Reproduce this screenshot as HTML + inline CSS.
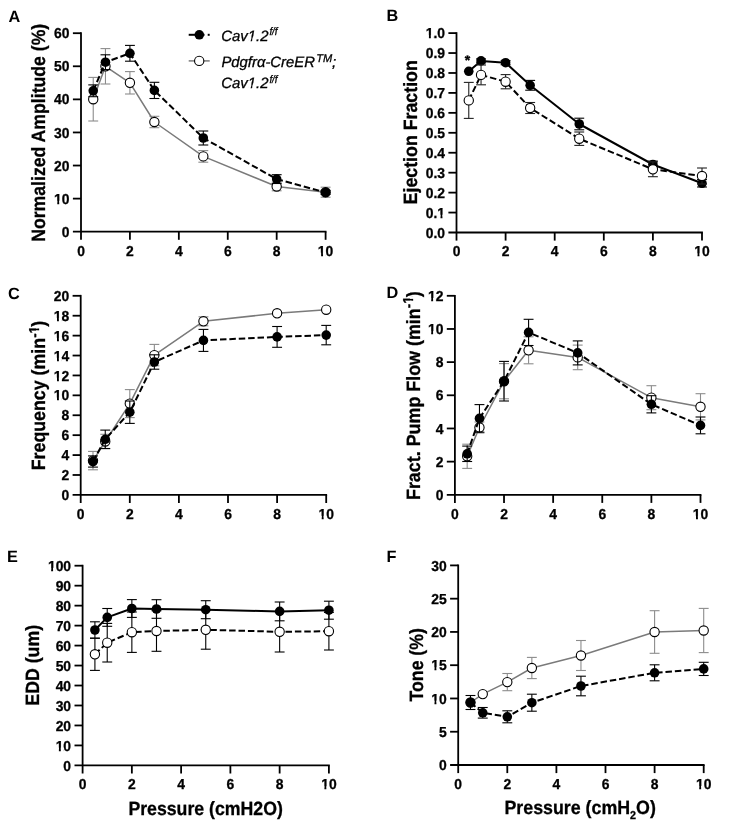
<!DOCTYPE html>
<html><head><meta charset="utf-8"><title>Figure</title>
<style>
html,body{margin:0;padding:0;background:#fff;}
body{width:750px;height:837px;overflow:hidden;}
svg{display:block;text-rendering:geometricPrecision;filter:blur(0.4px);}
text{stroke:#000;stroke-width:0.3px;}
</style></head>
<body>
<svg width="750" height="837" viewBox="0 0 750 837">
<rect width="750" height="837" fill="#fff"/>
<line x1="81" y1="32.3" x2="81" y2="239.8" stroke="#000" stroke-width="1.8" stroke-linecap="butt"/>
<line x1="72.9" y1="231.7" x2="326.5" y2="231.7" stroke="#000" stroke-width="1.8" />
<text x="69.5" y="236.81" font-family="Liberation Sans, sans-serif" font-weight="bold" font-size="14.4" text-anchor="end" textLength="7.73" lengthAdjust="spacingAndGlyphs">0</text>
<line x1="72.9" y1="198.62" x2="81" y2="198.62" stroke="#000" stroke-width="1.8" />
<text x="69.5" y="203.73" font-family="Liberation Sans, sans-serif" font-weight="bold" font-size="14.4" text-anchor="end" textLength="15.46" lengthAdjust="spacingAndGlyphs">10</text>
<line x1="72.9" y1="165.53" x2="81" y2="165.53" stroke="#000" stroke-width="1.8" />
<text x="69.5" y="170.65" font-family="Liberation Sans, sans-serif" font-weight="bold" font-size="14.4" text-anchor="end" textLength="15.46" lengthAdjust="spacingAndGlyphs">20</text>
<line x1="72.9" y1="132.45" x2="81" y2="132.45" stroke="#000" stroke-width="1.8" />
<text x="69.5" y="137.56" font-family="Liberation Sans, sans-serif" font-weight="bold" font-size="14.4" text-anchor="end" textLength="15.46" lengthAdjust="spacingAndGlyphs">30</text>
<line x1="72.9" y1="99.37" x2="81" y2="99.37" stroke="#000" stroke-width="1.8" />
<text x="69.5" y="104.48" font-family="Liberation Sans, sans-serif" font-weight="bold" font-size="14.4" text-anchor="end" textLength="15.46" lengthAdjust="spacingAndGlyphs">40</text>
<line x1="72.9" y1="66.28" x2="81" y2="66.28" stroke="#000" stroke-width="1.8" />
<text x="69.5" y="71.4" font-family="Liberation Sans, sans-serif" font-weight="bold" font-size="14.4" text-anchor="end" textLength="15.46" lengthAdjust="spacingAndGlyphs">50</text>
<line x1="72.9" y1="33.2" x2="81" y2="33.2" stroke="#000" stroke-width="1.8" />
<text x="69.5" y="38.31" font-family="Liberation Sans, sans-serif" font-weight="bold" font-size="14.4" text-anchor="end" textLength="15.46" lengthAdjust="spacingAndGlyphs">60</text>
<text x="81" y="255.6" font-family="Liberation Sans, sans-serif" font-weight="bold" font-size="14.4" text-anchor="middle" textLength="7.73" lengthAdjust="spacingAndGlyphs">0</text>
<line x1="129.92" y1="231.7" x2="129.92" y2="239.8" stroke="#000" stroke-width="1.8" />
<text x="129.92" y="255.6" font-family="Liberation Sans, sans-serif" font-weight="bold" font-size="14.4" text-anchor="middle" textLength="7.73" lengthAdjust="spacingAndGlyphs">2</text>
<line x1="178.84" y1="231.7" x2="178.84" y2="239.8" stroke="#000" stroke-width="1.8" />
<text x="178.84" y="255.6" font-family="Liberation Sans, sans-serif" font-weight="bold" font-size="14.4" text-anchor="middle" textLength="7.73" lengthAdjust="spacingAndGlyphs">4</text>
<line x1="227.76" y1="231.7" x2="227.76" y2="239.8" stroke="#000" stroke-width="1.8" />
<text x="227.76" y="255.6" font-family="Liberation Sans, sans-serif" font-weight="bold" font-size="14.4" text-anchor="middle" textLength="7.73" lengthAdjust="spacingAndGlyphs">6</text>
<line x1="276.68" y1="231.7" x2="276.68" y2="239.8" stroke="#000" stroke-width="1.8" />
<text x="276.68" y="255.6" font-family="Liberation Sans, sans-serif" font-weight="bold" font-size="14.4" text-anchor="middle" textLength="7.73" lengthAdjust="spacingAndGlyphs">8</text>
<line x1="325.6" y1="231.7" x2="325.6" y2="239.8" stroke="#000" stroke-width="1.8" />
<text x="325.6" y="255.6" font-family="Liberation Sans, sans-serif" font-weight="bold" font-size="14.4" text-anchor="middle" textLength="15.46" lengthAdjust="spacingAndGlyphs">10</text>
<line x1="93.23" y1="77.4" x2="93.23" y2="121" stroke="#8c8c8c" stroke-width="1.1" />
<line x1="88.28" y1="77.4" x2="98.18" y2="77.4" stroke="#8c8c8c" stroke-width="1.1" />
<line x1="88.28" y1="121" x2="98.18" y2="121" stroke="#8c8c8c" stroke-width="1.1" />
<line x1="105.46" y1="48.6" x2="105.46" y2="84" stroke="#8c8c8c" stroke-width="1.1" />
<line x1="100.51" y1="48.6" x2="110.41" y2="48.6" stroke="#8c8c8c" stroke-width="1.1" />
<line x1="100.51" y1="84" x2="110.41" y2="84" stroke="#8c8c8c" stroke-width="1.1" />
<line x1="129.92" y1="71.6" x2="129.92" y2="94" stroke="#8c8c8c" stroke-width="1.1" />
<line x1="124.97" y1="71.6" x2="134.87" y2="71.6" stroke="#8c8c8c" stroke-width="1.1" />
<line x1="124.97" y1="94" x2="134.87" y2="94" stroke="#8c8c8c" stroke-width="1.1" />
<line x1="154.38" y1="116.3" x2="154.38" y2="127.7" stroke="#8c8c8c" stroke-width="1.1" />
<line x1="149.43" y1="116.3" x2="159.33" y2="116.3" stroke="#8c8c8c" stroke-width="1.1" />
<line x1="149.43" y1="127.7" x2="159.33" y2="127.7" stroke="#8c8c8c" stroke-width="1.1" />
<line x1="203.3" y1="150.6" x2="203.3" y2="162.2" stroke="#8c8c8c" stroke-width="1.1" />
<line x1="198.35" y1="150.6" x2="208.25" y2="150.6" stroke="#8c8c8c" stroke-width="1.1" />
<line x1="198.35" y1="162.2" x2="208.25" y2="162.2" stroke="#8c8c8c" stroke-width="1.1" />
<line x1="276.68" y1="182.2" x2="276.68" y2="190.8" stroke="#8c8c8c" stroke-width="1.1" />
<line x1="271.73" y1="182.2" x2="281.63" y2="182.2" stroke="#8c8c8c" stroke-width="1.1" />
<line x1="271.73" y1="190.8" x2="281.63" y2="190.8" stroke="#8c8c8c" stroke-width="1.1" />
<line x1="325.6" y1="187.2" x2="325.6" y2="197.2" stroke="#8c8c8c" stroke-width="1.1" />
<line x1="320.65" y1="187.2" x2="330.55" y2="187.2" stroke="#8c8c8c" stroke-width="1.1" />
<line x1="320.65" y1="197.2" x2="330.55" y2="197.2" stroke="#8c8c8c" stroke-width="1.1" />
<path d="M93.23,99.2 L105.46,66.3 L129.92,82.8 L154.38,122 L203.3,156.4 L276.68,186.5 L325.6,192.2" fill="none" stroke="#7a7a7a" stroke-width="1.5" stroke-linejoin="round"/>
<circle cx="93.23" cy="99.2" r="4.65" fill="#fff" stroke="#000" stroke-width="1.1"/>
<circle cx="105.46" cy="66.3" r="4.65" fill="#fff" stroke="#000" stroke-width="1.1"/>
<circle cx="129.92" cy="82.8" r="4.65" fill="#fff" stroke="#000" stroke-width="1.1"/>
<circle cx="154.38" cy="122" r="4.65" fill="#fff" stroke="#000" stroke-width="1.1"/>
<circle cx="203.3" cy="156.4" r="4.65" fill="#fff" stroke="#000" stroke-width="1.1"/>
<circle cx="276.68" cy="186.5" r="4.65" fill="#fff" stroke="#000" stroke-width="1.1"/>
<circle cx="325.6" cy="192.2" r="4.65" fill="#fff" stroke="#000" stroke-width="1.1"/>
<line x1="93.23" y1="84.9" x2="93.23" y2="96.7" stroke="#000" stroke-width="1.1" />
<line x1="88.28" y1="84.9" x2="98.18" y2="84.9" stroke="#000" stroke-width="1.1" />
<line x1="88.28" y1="96.7" x2="98.18" y2="96.7" stroke="#000" stroke-width="1.1" />
<line x1="105.46" y1="54.8" x2="105.46" y2="69.6" stroke="#000" stroke-width="1.1" />
<line x1="100.51" y1="54.8" x2="110.41" y2="54.8" stroke="#000" stroke-width="1.1" />
<line x1="100.51" y1="69.6" x2="110.41" y2="69.6" stroke="#000" stroke-width="1.1" />
<line x1="129.92" y1="45.4" x2="129.92" y2="61.2" stroke="#000" stroke-width="1.1" />
<line x1="124.97" y1="45.4" x2="134.87" y2="45.4" stroke="#000" stroke-width="1.1" />
<line x1="124.97" y1="61.2" x2="134.87" y2="61.2" stroke="#000" stroke-width="1.1" />
<line x1="154.38" y1="82.3" x2="154.38" y2="98.5" stroke="#000" stroke-width="1.1" />
<line x1="149.43" y1="82.3" x2="159.33" y2="82.3" stroke="#000" stroke-width="1.1" />
<line x1="149.43" y1="98.5" x2="159.33" y2="98.5" stroke="#000" stroke-width="1.1" />
<line x1="203.3" y1="131" x2="203.3" y2="145" stroke="#000" stroke-width="1.1" />
<line x1="198.35" y1="131" x2="208.25" y2="131" stroke="#000" stroke-width="1.1" />
<line x1="198.35" y1="145" x2="208.25" y2="145" stroke="#000" stroke-width="1.1" />
<line x1="276.68" y1="174.7" x2="276.68" y2="183.5" stroke="#000" stroke-width="1.1" />
<line x1="271.73" y1="174.7" x2="281.63" y2="174.7" stroke="#000" stroke-width="1.1" />
<line x1="271.73" y1="183.5" x2="281.63" y2="183.5" stroke="#000" stroke-width="1.1" />
<line x1="325.6" y1="190.4" x2="325.6" y2="194.4" stroke="#000" stroke-width="1.1" />
<line x1="320.65" y1="190.4" x2="330.55" y2="190.4" stroke="#000" stroke-width="1.1" />
<line x1="320.65" y1="194.4" x2="330.55" y2="194.4" stroke="#000" stroke-width="1.1" />
<path d="M93.23,90.8 L105.46,62.2 L129.92,53.3 L154.38,90.4 L203.3,138 L276.68,179.1 L325.6,192.4" fill="none" stroke="#000" stroke-width="2" stroke-dasharray="6.5 2.9" stroke-linejoin="round"/>
<circle cx="93.23" cy="90.8" r="4.8" fill="#000"/>
<circle cx="105.46" cy="62.2" r="4.8" fill="#000"/>
<circle cx="129.92" cy="53.3" r="4.8" fill="#000"/>
<circle cx="154.38" cy="90.4" r="4.8" fill="#000"/>
<circle cx="203.3" cy="138" r="4.8" fill="#000"/>
<circle cx="276.68" cy="179.1" r="4.8" fill="#000"/>
<circle cx="325.6" cy="192.4" r="4.8" fill="#000"/>
<text x="8.4" y="21.6" font-family="Liberation Sans, sans-serif" font-weight="bold" font-size="16.3" text-anchor="start" style="stroke:none">A</text>
<line x1="188.7" y1="34.8" x2="196" y2="34.8" stroke="#000" stroke-width="2" />
<line x1="202.5" y1="34.8" x2="204.5" y2="34.8" stroke="#000" stroke-width="2" />
<line x1="207.7" y1="34.8" x2="209.7" y2="34.8" stroke="#000" stroke-width="2" />
<circle cx="199.3" cy="34.8" r="4.8" fill="#000"/>
<line x1="188.7" y1="60.9" x2="209.7" y2="60.9" stroke="#7a7a7a" stroke-width="1.5" />
<circle cx="199.2" cy="60.9" r="4.65" fill="#fff" stroke="#000" stroke-width="1.1"/>
<text x="221.2" y="40.5" font-family="Liberation Sans, sans-serif" font-style="italic" font-size="15" textLength="47.4" lengthAdjust="spacingAndGlyphs">Cav1.2</text>
<text x="269.4" y="35.3" font-family="Liberation Sans, sans-serif" font-style="italic" font-size="11" textLength="8.2" lengthAdjust="spacingAndGlyphs">f/f</text>
<text x="221.45" y="67.3" font-family="Liberation Sans, sans-serif" font-style="italic" font-size="15" textLength="93.5" lengthAdjust="spacingAndGlyphs">Pdgfr&#945;-CreER</text>
<text x="316.2" y="62.1" font-family="Liberation Sans, sans-serif" font-style="italic" font-size="11.2" textLength="16" lengthAdjust="spacingAndGlyphs">TM</text>
<text x="332.1" y="67.3" font-family="Liberation Sans, sans-serif" font-style="italic" font-size="15" textLength="4.2" lengthAdjust="spacingAndGlyphs">;</text>
<text x="221.2" y="87.6" font-family="Liberation Sans, sans-serif" font-style="italic" font-size="15" textLength="47.4" lengthAdjust="spacingAndGlyphs">Cav1.2</text>
<text x="269.4" y="82.5" font-family="Liberation Sans, sans-serif" font-style="italic" font-size="11" textLength="8.2" lengthAdjust="spacingAndGlyphs">f/f</text>
<line x1="456.5" y1="32.2" x2="456.5" y2="240.6" stroke="#000" stroke-width="1.8" stroke-linecap="butt"/>
<line x1="448.4" y1="232.5" x2="702.9" y2="232.5" stroke="#000" stroke-width="1.8" />
<text x="445" y="237.61" font-family="Liberation Sans, sans-serif" font-weight="bold" font-size="14.4" text-anchor="end" textLength="19.32" lengthAdjust="spacingAndGlyphs">0.0</text>
<line x1="448.4" y1="212.56" x2="456.5" y2="212.56" stroke="#000" stroke-width="1.8" />
<text x="445" y="217.67" font-family="Liberation Sans, sans-serif" font-weight="bold" font-size="14.4" text-anchor="end" textLength="19.32" lengthAdjust="spacingAndGlyphs">0.1</text>
<line x1="448.4" y1="192.62" x2="456.5" y2="192.62" stroke="#000" stroke-width="1.8" />
<text x="445" y="197.73" font-family="Liberation Sans, sans-serif" font-weight="bold" font-size="14.4" text-anchor="end" textLength="19.32" lengthAdjust="spacingAndGlyphs">0.2</text>
<line x1="448.4" y1="172.68" x2="456.5" y2="172.68" stroke="#000" stroke-width="1.8" />
<text x="445" y="177.79" font-family="Liberation Sans, sans-serif" font-weight="bold" font-size="14.4" text-anchor="end" textLength="19.32" lengthAdjust="spacingAndGlyphs">0.3</text>
<line x1="448.4" y1="152.74" x2="456.5" y2="152.74" stroke="#000" stroke-width="1.8" />
<text x="445" y="157.85" font-family="Liberation Sans, sans-serif" font-weight="bold" font-size="14.4" text-anchor="end" textLength="19.32" lengthAdjust="spacingAndGlyphs">0.4</text>
<line x1="448.4" y1="132.8" x2="456.5" y2="132.8" stroke="#000" stroke-width="1.8" />
<text x="445" y="137.91" font-family="Liberation Sans, sans-serif" font-weight="bold" font-size="14.4" text-anchor="end" textLength="19.32" lengthAdjust="spacingAndGlyphs">0.5</text>
<line x1="448.4" y1="112.86" x2="456.5" y2="112.86" stroke="#000" stroke-width="1.8" />
<text x="445" y="117.97" font-family="Liberation Sans, sans-serif" font-weight="bold" font-size="14.4" text-anchor="end" textLength="19.32" lengthAdjust="spacingAndGlyphs">0.6</text>
<line x1="448.4" y1="92.92" x2="456.5" y2="92.92" stroke="#000" stroke-width="1.8" />
<text x="445" y="98.03" font-family="Liberation Sans, sans-serif" font-weight="bold" font-size="14.4" text-anchor="end" textLength="19.32" lengthAdjust="spacingAndGlyphs">0.7</text>
<line x1="448.4" y1="72.98" x2="456.5" y2="72.98" stroke="#000" stroke-width="1.8" />
<text x="445" y="78.09" font-family="Liberation Sans, sans-serif" font-weight="bold" font-size="14.4" text-anchor="end" textLength="19.32" lengthAdjust="spacingAndGlyphs">0.8</text>
<line x1="448.4" y1="53.04" x2="456.5" y2="53.04" stroke="#000" stroke-width="1.8" />
<text x="445" y="58.15" font-family="Liberation Sans, sans-serif" font-weight="bold" font-size="14.4" text-anchor="end" textLength="19.32" lengthAdjust="spacingAndGlyphs">0.9</text>
<line x1="448.4" y1="33.1" x2="456.5" y2="33.1" stroke="#000" stroke-width="1.8" />
<text x="445" y="38.21" font-family="Liberation Sans, sans-serif" font-weight="bold" font-size="14.4" text-anchor="end" textLength="19.32" lengthAdjust="spacingAndGlyphs">1.0</text>
<text x="456.5" y="256.4" font-family="Liberation Sans, sans-serif" font-weight="bold" font-size="14.4" text-anchor="middle" textLength="7.73" lengthAdjust="spacingAndGlyphs">0</text>
<line x1="505.6" y1="232.5" x2="505.6" y2="240.6" stroke="#000" stroke-width="1.8" />
<text x="505.6" y="256.4" font-family="Liberation Sans, sans-serif" font-weight="bold" font-size="14.4" text-anchor="middle" textLength="7.73" lengthAdjust="spacingAndGlyphs">2</text>
<line x1="554.7" y1="232.5" x2="554.7" y2="240.6" stroke="#000" stroke-width="1.8" />
<text x="554.7" y="256.4" font-family="Liberation Sans, sans-serif" font-weight="bold" font-size="14.4" text-anchor="middle" textLength="7.73" lengthAdjust="spacingAndGlyphs">4</text>
<line x1="603.8" y1="232.5" x2="603.8" y2="240.6" stroke="#000" stroke-width="1.8" />
<text x="603.8" y="256.4" font-family="Liberation Sans, sans-serif" font-weight="bold" font-size="14.4" text-anchor="middle" textLength="7.73" lengthAdjust="spacingAndGlyphs">6</text>
<line x1="652.9" y1="232.5" x2="652.9" y2="240.6" stroke="#000" stroke-width="1.8" />
<text x="652.9" y="256.4" font-family="Liberation Sans, sans-serif" font-weight="bold" font-size="14.4" text-anchor="middle" textLength="7.73" lengthAdjust="spacingAndGlyphs">8</text>
<line x1="702" y1="232.5" x2="702" y2="240.6" stroke="#000" stroke-width="1.8" />
<text x="702" y="256.4" font-family="Liberation Sans, sans-serif" font-weight="bold" font-size="14.4" text-anchor="middle" textLength="15.46" lengthAdjust="spacingAndGlyphs">10</text>
<line x1="481.05" y1="58.9" x2="481.05" y2="62.9" stroke="#000" stroke-width="1.1" />
<line x1="476.1" y1="58.9" x2="486" y2="58.9" stroke="#000" stroke-width="1.1" />
<line x1="476.1" y1="62.9" x2="486" y2="62.9" stroke="#000" stroke-width="1.1" />
<line x1="505.6" y1="60.7" x2="505.6" y2="64.7" stroke="#000" stroke-width="1.1" />
<line x1="500.65" y1="60.7" x2="510.55" y2="60.7" stroke="#000" stroke-width="1.1" />
<line x1="500.65" y1="64.7" x2="510.55" y2="64.7" stroke="#000" stroke-width="1.1" />
<line x1="530.15" y1="80.4" x2="530.15" y2="90.2" stroke="#000" stroke-width="1.1" />
<line x1="525.2" y1="80.4" x2="535.1" y2="80.4" stroke="#000" stroke-width="1.1" />
<line x1="525.2" y1="90.2" x2="535.1" y2="90.2" stroke="#000" stroke-width="1.1" />
<line x1="579.25" y1="118.2" x2="579.25" y2="129.8" stroke="#000" stroke-width="1.1" />
<line x1="574.3" y1="118.2" x2="584.2" y2="118.2" stroke="#000" stroke-width="1.1" />
<line x1="574.3" y1="129.8" x2="584.2" y2="129.8" stroke="#000" stroke-width="1.1" />
<line x1="652.9" y1="161.1" x2="652.9" y2="167.9" stroke="#000" stroke-width="1.1" />
<line x1="647.95" y1="161.1" x2="657.85" y2="161.1" stroke="#000" stroke-width="1.1" />
<line x1="647.95" y1="167.9" x2="657.85" y2="167.9" stroke="#000" stroke-width="1.1" />
<line x1="702" y1="179.6" x2="702" y2="187" stroke="#000" stroke-width="1.1" />
<line x1="697.05" y1="179.6" x2="706.95" y2="179.6" stroke="#000" stroke-width="1.1" />
<line x1="697.05" y1="187" x2="706.95" y2="187" stroke="#000" stroke-width="1.1" />
<path d="M468.77,71.3 L481.05,60.9 L505.6,62.7 L530.15,85.3 L579.25,124 L652.9,164.5 L702,183.3" fill="none" stroke="#000" stroke-width="2" stroke-linejoin="round"/>
<circle cx="468.77" cy="71.3" r="4.8" fill="#000"/>
<circle cx="481.05" cy="60.9" r="4.8" fill="#000"/>
<circle cx="505.6" cy="62.7" r="4.8" fill="#000"/>
<circle cx="530.15" cy="85.3" r="4.8" fill="#000"/>
<circle cx="579.25" cy="124" r="4.8" fill="#000"/>
<circle cx="652.9" cy="164.5" r="4.8" fill="#000"/>
<circle cx="702" cy="183.3" r="4.8" fill="#000"/>
<line x1="468.77" y1="82.4" x2="468.77" y2="118.4" stroke="#222" stroke-width="1.1" />
<line x1="463.82" y1="82.4" x2="473.72" y2="82.4" stroke="#222" stroke-width="1.1" />
<line x1="463.82" y1="118.4" x2="473.72" y2="118.4" stroke="#222" stroke-width="1.1" />
<line x1="481.05" y1="65" x2="481.05" y2="84.8" stroke="#222" stroke-width="1.1" />
<line x1="476.1" y1="65" x2="486" y2="65" stroke="#222" stroke-width="1.1" />
<line x1="476.1" y1="84.8" x2="486" y2="84.8" stroke="#222" stroke-width="1.1" />
<line x1="505.6" y1="74.6" x2="505.6" y2="88.8" stroke="#222" stroke-width="1.1" />
<line x1="500.65" y1="74.6" x2="510.55" y2="74.6" stroke="#222" stroke-width="1.1" />
<line x1="500.65" y1="88.8" x2="510.55" y2="88.8" stroke="#222" stroke-width="1.1" />
<line x1="530.15" y1="102.5" x2="530.15" y2="113.5" stroke="#222" stroke-width="1.1" />
<line x1="525.2" y1="102.5" x2="535.1" y2="102.5" stroke="#222" stroke-width="1.1" />
<line x1="525.2" y1="113.5" x2="535.1" y2="113.5" stroke="#222" stroke-width="1.1" />
<line x1="579.25" y1="132" x2="579.25" y2="145.4" stroke="#222" stroke-width="1.1" />
<line x1="574.3" y1="132" x2="584.2" y2="132" stroke="#222" stroke-width="1.1" />
<line x1="574.3" y1="145.4" x2="584.2" y2="145.4" stroke="#222" stroke-width="1.1" />
<line x1="652.9" y1="161.9" x2="652.9" y2="176.7" stroke="#222" stroke-width="1.1" />
<line x1="647.95" y1="161.9" x2="657.85" y2="161.9" stroke="#222" stroke-width="1.1" />
<line x1="647.95" y1="176.7" x2="657.85" y2="176.7" stroke="#222" stroke-width="1.1" />
<line x1="702" y1="168" x2="702" y2="184" stroke="#222" stroke-width="1.1" />
<line x1="697.05" y1="168" x2="706.95" y2="168" stroke="#222" stroke-width="1.1" />
<line x1="697.05" y1="184" x2="706.95" y2="184" stroke="#222" stroke-width="1.1" />
<path d="M468.77,100.4 L481.05,74.9 L505.6,81.7 L530.15,108 L579.25,138.7 L652.9,169.3 L702,176" fill="none" stroke="#000" stroke-width="2" stroke-dasharray="6.5 2.9" stroke-linejoin="round"/>
<circle cx="468.77" cy="100.4" r="4.65" fill="#fff" stroke="#000" stroke-width="1.1"/>
<circle cx="481.05" cy="74.9" r="4.65" fill="#fff" stroke="#000" stroke-width="1.1"/>
<circle cx="505.6" cy="81.7" r="4.65" fill="#fff" stroke="#000" stroke-width="1.1"/>
<circle cx="530.15" cy="108" r="4.65" fill="#fff" stroke="#000" stroke-width="1.1"/>
<circle cx="579.25" cy="138.7" r="4.65" fill="#fff" stroke="#000" stroke-width="1.1"/>
<circle cx="652.9" cy="169.3" r="4.65" fill="#fff" stroke="#000" stroke-width="1.1"/>
<circle cx="702" cy="176" r="4.65" fill="#fff" stroke="#000" stroke-width="1.1"/>
<text x="467.4" y="64.8" font-family="Liberation Sans, sans-serif" font-weight="bold" font-size="14" text-anchor="middle" >*</text>
<text x="386.6" y="21.3" font-family="Liberation Sans, sans-serif" font-weight="bold" font-size="16.3" text-anchor="start" style="stroke:none">B</text>
<line x1="80.7" y1="294.9" x2="80.7" y2="503" stroke="#000" stroke-width="1.8" stroke-linecap="butt"/>
<line x1="72.6" y1="494.9" x2="327.1" y2="494.9" stroke="#000" stroke-width="1.8" />
<text x="69.2" y="500.01" font-family="Liberation Sans, sans-serif" font-weight="bold" font-size="14.4" text-anchor="end" textLength="7.73" lengthAdjust="spacingAndGlyphs">0</text>
<line x1="72.6" y1="474.99" x2="80.7" y2="474.99" stroke="#000" stroke-width="1.8" />
<text x="69.2" y="480.1" font-family="Liberation Sans, sans-serif" font-weight="bold" font-size="14.4" text-anchor="end" textLength="7.73" lengthAdjust="spacingAndGlyphs">2</text>
<line x1="72.6" y1="455.08" x2="80.7" y2="455.08" stroke="#000" stroke-width="1.8" />
<text x="69.2" y="460.19" font-family="Liberation Sans, sans-serif" font-weight="bold" font-size="14.4" text-anchor="end" textLength="7.73" lengthAdjust="spacingAndGlyphs">4</text>
<line x1="72.6" y1="435.17" x2="80.7" y2="435.17" stroke="#000" stroke-width="1.8" />
<text x="69.2" y="440.28" font-family="Liberation Sans, sans-serif" font-weight="bold" font-size="14.4" text-anchor="end" textLength="7.73" lengthAdjust="spacingAndGlyphs">6</text>
<line x1="72.6" y1="415.26" x2="80.7" y2="415.26" stroke="#000" stroke-width="1.8" />
<text x="69.2" y="420.37" font-family="Liberation Sans, sans-serif" font-weight="bold" font-size="14.4" text-anchor="end" textLength="7.73" lengthAdjust="spacingAndGlyphs">8</text>
<line x1="72.6" y1="395.35" x2="80.7" y2="395.35" stroke="#000" stroke-width="1.8" />
<text x="69.2" y="400.46" font-family="Liberation Sans, sans-serif" font-weight="bold" font-size="14.4" text-anchor="end" textLength="15.46" lengthAdjust="spacingAndGlyphs">10</text>
<line x1="72.6" y1="375.44" x2="80.7" y2="375.44" stroke="#000" stroke-width="1.8" />
<text x="69.2" y="380.55" font-family="Liberation Sans, sans-serif" font-weight="bold" font-size="14.4" text-anchor="end" textLength="15.46" lengthAdjust="spacingAndGlyphs">12</text>
<line x1="72.6" y1="355.53" x2="80.7" y2="355.53" stroke="#000" stroke-width="1.8" />
<text x="69.2" y="360.64" font-family="Liberation Sans, sans-serif" font-weight="bold" font-size="14.4" text-anchor="end" textLength="15.46" lengthAdjust="spacingAndGlyphs">14</text>
<line x1="72.6" y1="335.62" x2="80.7" y2="335.62" stroke="#000" stroke-width="1.8" />
<text x="69.2" y="340.73" font-family="Liberation Sans, sans-serif" font-weight="bold" font-size="14.4" text-anchor="end" textLength="15.46" lengthAdjust="spacingAndGlyphs">16</text>
<line x1="72.6" y1="315.71" x2="80.7" y2="315.71" stroke="#000" stroke-width="1.8" />
<text x="69.2" y="320.82" font-family="Liberation Sans, sans-serif" font-weight="bold" font-size="14.4" text-anchor="end" textLength="15.46" lengthAdjust="spacingAndGlyphs">18</text>
<line x1="72.6" y1="295.8" x2="80.7" y2="295.8" stroke="#000" stroke-width="1.8" />
<text x="69.2" y="300.91" font-family="Liberation Sans, sans-serif" font-weight="bold" font-size="14.4" text-anchor="end" textLength="15.46" lengthAdjust="spacingAndGlyphs">20</text>
<text x="80.7" y="518.8" font-family="Liberation Sans, sans-serif" font-weight="bold" font-size="14.4" text-anchor="middle" textLength="7.73" lengthAdjust="spacingAndGlyphs">0</text>
<line x1="129.8" y1="494.9" x2="129.8" y2="503" stroke="#000" stroke-width="1.8" />
<text x="129.8" y="518.8" font-family="Liberation Sans, sans-serif" font-weight="bold" font-size="14.4" text-anchor="middle" textLength="7.73" lengthAdjust="spacingAndGlyphs">2</text>
<line x1="178.9" y1="494.9" x2="178.9" y2="503" stroke="#000" stroke-width="1.8" />
<text x="178.9" y="518.8" font-family="Liberation Sans, sans-serif" font-weight="bold" font-size="14.4" text-anchor="middle" textLength="7.73" lengthAdjust="spacingAndGlyphs">4</text>
<line x1="228" y1="494.9" x2="228" y2="503" stroke="#000" stroke-width="1.8" />
<text x="228" y="518.8" font-family="Liberation Sans, sans-serif" font-weight="bold" font-size="14.4" text-anchor="middle" textLength="7.73" lengthAdjust="spacingAndGlyphs">6</text>
<line x1="277.1" y1="494.9" x2="277.1" y2="503" stroke="#000" stroke-width="1.8" />
<text x="277.1" y="518.8" font-family="Liberation Sans, sans-serif" font-weight="bold" font-size="14.4" text-anchor="middle" textLength="7.73" lengthAdjust="spacingAndGlyphs">8</text>
<line x1="326.2" y1="494.9" x2="326.2" y2="503" stroke="#000" stroke-width="1.8" />
<text x="326.2" y="518.8" font-family="Liberation Sans, sans-serif" font-weight="bold" font-size="14.4" text-anchor="middle" textLength="15.46" lengthAdjust="spacingAndGlyphs">10</text>
<line x1="92.98" y1="451.4" x2="92.98" y2="469.8" stroke="#8c8c8c" stroke-width="1.1" />
<line x1="88.03" y1="451.4" x2="97.93" y2="451.4" stroke="#8c8c8c" stroke-width="1.1" />
<line x1="88.03" y1="469.8" x2="97.93" y2="469.8" stroke="#8c8c8c" stroke-width="1.1" />
<line x1="105.25" y1="434.3" x2="105.25" y2="448.7" stroke="#8c8c8c" stroke-width="1.1" />
<line x1="100.3" y1="434.3" x2="110.2" y2="434.3" stroke="#8c8c8c" stroke-width="1.1" />
<line x1="100.3" y1="448.7" x2="110.2" y2="448.7" stroke="#8c8c8c" stroke-width="1.1" />
<line x1="129.8" y1="389.6" x2="129.8" y2="417.6" stroke="#8c8c8c" stroke-width="1.1" />
<line x1="124.85" y1="389.6" x2="134.75" y2="389.6" stroke="#8c8c8c" stroke-width="1.1" />
<line x1="124.85" y1="417.6" x2="134.75" y2="417.6" stroke="#8c8c8c" stroke-width="1.1" />
<line x1="154.35" y1="344.4" x2="154.35" y2="365.8" stroke="#8c8c8c" stroke-width="1.1" />
<line x1="149.4" y1="344.4" x2="159.3" y2="344.4" stroke="#8c8c8c" stroke-width="1.1" />
<line x1="149.4" y1="365.8" x2="159.3" y2="365.8" stroke="#8c8c8c" stroke-width="1.1" />
<line x1="203.45" y1="316.8" x2="203.45" y2="325.8" stroke="#8c8c8c" stroke-width="1.1" />
<line x1="198.5" y1="316.8" x2="208.4" y2="316.8" stroke="#8c8c8c" stroke-width="1.1" />
<line x1="198.5" y1="325.8" x2="208.4" y2="325.8" stroke="#8c8c8c" stroke-width="1.1" />
<path d="M92.98,460.6 L105.25,441.5 L129.8,403.6 L154.35,355.1 L203.45,321.3 L277.1,313.3 L326.2,309.7" fill="none" stroke="#7a7a7a" stroke-width="1.5" stroke-linejoin="round"/>
<circle cx="92.98" cy="460.6" r="4.65" fill="#fff" stroke="#000" stroke-width="1.1"/>
<circle cx="105.25" cy="441.5" r="4.65" fill="#fff" stroke="#000" stroke-width="1.1"/>
<circle cx="129.8" cy="403.6" r="4.65" fill="#fff" stroke="#000" stroke-width="1.1"/>
<circle cx="154.35" cy="355.1" r="4.65" fill="#fff" stroke="#000" stroke-width="1.1"/>
<circle cx="203.45" cy="321.3" r="4.65" fill="#fff" stroke="#000" stroke-width="1.1"/>
<circle cx="277.1" cy="313.3" r="4.65" fill="#fff" stroke="#000" stroke-width="1.1"/>
<circle cx="326.2" cy="309.7" r="4.65" fill="#fff" stroke="#000" stroke-width="1.1"/>
<line x1="92.98" y1="455.9" x2="92.98" y2="467.1" stroke="#000" stroke-width="1.1" />
<line x1="88.03" y1="455.9" x2="97.93" y2="455.9" stroke="#000" stroke-width="1.1" />
<line x1="88.03" y1="467.1" x2="97.93" y2="467.1" stroke="#000" stroke-width="1.1" />
<line x1="105.25" y1="430.1" x2="105.25" y2="448.5" stroke="#000" stroke-width="1.1" />
<line x1="100.3" y1="430.1" x2="110.2" y2="430.1" stroke="#000" stroke-width="1.1" />
<line x1="100.3" y1="448.5" x2="110.2" y2="448.5" stroke="#000" stroke-width="1.1" />
<line x1="129.8" y1="401" x2="129.8" y2="423.4" stroke="#000" stroke-width="1.1" />
<line x1="124.85" y1="401" x2="134.75" y2="401" stroke="#000" stroke-width="1.1" />
<line x1="124.85" y1="423.4" x2="134.75" y2="423.4" stroke="#000" stroke-width="1.1" />
<line x1="154.35" y1="354.8" x2="154.35" y2="369.2" stroke="#000" stroke-width="1.1" />
<line x1="149.4" y1="354.8" x2="159.3" y2="354.8" stroke="#000" stroke-width="1.1" />
<line x1="149.4" y1="369.2" x2="159.3" y2="369.2" stroke="#000" stroke-width="1.1" />
<line x1="203.45" y1="329.4" x2="203.45" y2="351.4" stroke="#000" stroke-width="1.1" />
<line x1="198.5" y1="329.4" x2="208.4" y2="329.4" stroke="#000" stroke-width="1.1" />
<line x1="198.5" y1="351.4" x2="208.4" y2="351.4" stroke="#000" stroke-width="1.1" />
<line x1="277.1" y1="326.5" x2="277.1" y2="347.3" stroke="#000" stroke-width="1.1" />
<line x1="272.15" y1="326.5" x2="282.05" y2="326.5" stroke="#000" stroke-width="1.1" />
<line x1="272.15" y1="347.3" x2="282.05" y2="347.3" stroke="#000" stroke-width="1.1" />
<line x1="326.2" y1="325.4" x2="326.2" y2="344.8" stroke="#000" stroke-width="1.1" />
<line x1="321.25" y1="325.4" x2="331.15" y2="325.4" stroke="#000" stroke-width="1.1" />
<line x1="321.25" y1="344.8" x2="331.15" y2="344.8" stroke="#000" stroke-width="1.1" />
<path d="M92.98,461.5 L105.25,439.3 L129.8,412.2 L154.35,362 L203.45,340.4 L277.1,336.9 L326.2,335.1" fill="none" stroke="#000" stroke-width="2" stroke-dasharray="6.5 2.9" stroke-linejoin="round"/>
<circle cx="92.98" cy="461.5" r="4.8" fill="#000"/>
<circle cx="105.25" cy="439.3" r="4.8" fill="#000"/>
<circle cx="129.8" cy="412.2" r="4.8" fill="#000"/>
<circle cx="154.35" cy="362" r="4.8" fill="#000"/>
<circle cx="203.45" cy="340.4" r="4.8" fill="#000"/>
<circle cx="277.1" cy="336.9" r="4.8" fill="#000"/>
<circle cx="326.2" cy="335.1" r="4.8" fill="#000"/>
<text x="8" y="298.8" font-family="Liberation Sans, sans-serif" font-weight="bold" font-size="16.3" text-anchor="start" style="stroke:none">C</text>
<line x1="454.9" y1="294.9" x2="454.9" y2="502.9" stroke="#000" stroke-width="1.8" stroke-linecap="butt"/>
<line x1="446.8" y1="494.8" x2="701.4" y2="494.8" stroke="#000" stroke-width="1.8" />
<text x="443.4" y="499.91" font-family="Liberation Sans, sans-serif" font-weight="bold" font-size="14.4" text-anchor="end" textLength="7.73" lengthAdjust="spacingAndGlyphs">0</text>
<line x1="446.8" y1="461.63" x2="454.9" y2="461.63" stroke="#000" stroke-width="1.8" />
<text x="443.4" y="466.75" font-family="Liberation Sans, sans-serif" font-weight="bold" font-size="14.4" text-anchor="end" textLength="7.73" lengthAdjust="spacingAndGlyphs">2</text>
<line x1="446.8" y1="428.47" x2="454.9" y2="428.47" stroke="#000" stroke-width="1.8" />
<text x="443.4" y="433.58" font-family="Liberation Sans, sans-serif" font-weight="bold" font-size="14.4" text-anchor="end" textLength="7.73" lengthAdjust="spacingAndGlyphs">4</text>
<line x1="446.8" y1="395.3" x2="454.9" y2="395.3" stroke="#000" stroke-width="1.8" />
<text x="443.4" y="400.41" font-family="Liberation Sans, sans-serif" font-weight="bold" font-size="14.4" text-anchor="end" textLength="7.73" lengthAdjust="spacingAndGlyphs">6</text>
<line x1="446.8" y1="362.13" x2="454.9" y2="362.13" stroke="#000" stroke-width="1.8" />
<text x="443.4" y="367.25" font-family="Liberation Sans, sans-serif" font-weight="bold" font-size="14.4" text-anchor="end" textLength="7.73" lengthAdjust="spacingAndGlyphs">8</text>
<line x1="446.8" y1="328.97" x2="454.9" y2="328.97" stroke="#000" stroke-width="1.8" />
<text x="443.4" y="334.08" font-family="Liberation Sans, sans-serif" font-weight="bold" font-size="14.4" text-anchor="end" textLength="15.46" lengthAdjust="spacingAndGlyphs">10</text>
<line x1="446.8" y1="295.8" x2="454.9" y2="295.8" stroke="#000" stroke-width="1.8" />
<text x="443.4" y="300.91" font-family="Liberation Sans, sans-serif" font-weight="bold" font-size="14.4" text-anchor="end" textLength="15.46" lengthAdjust="spacingAndGlyphs">12</text>
<text x="454.9" y="518.7" font-family="Liberation Sans, sans-serif" font-weight="bold" font-size="14.4" text-anchor="middle" textLength="7.73" lengthAdjust="spacingAndGlyphs">0</text>
<line x1="504.02" y1="494.8" x2="504.02" y2="502.9" stroke="#000" stroke-width="1.8" />
<text x="504.02" y="518.7" font-family="Liberation Sans, sans-serif" font-weight="bold" font-size="14.4" text-anchor="middle" textLength="7.73" lengthAdjust="spacingAndGlyphs">2</text>
<line x1="553.14" y1="494.8" x2="553.14" y2="502.9" stroke="#000" stroke-width="1.8" />
<text x="553.14" y="518.7" font-family="Liberation Sans, sans-serif" font-weight="bold" font-size="14.4" text-anchor="middle" textLength="7.73" lengthAdjust="spacingAndGlyphs">4</text>
<line x1="602.26" y1="494.8" x2="602.26" y2="502.9" stroke="#000" stroke-width="1.8" />
<text x="602.26" y="518.7" font-family="Liberation Sans, sans-serif" font-weight="bold" font-size="14.4" text-anchor="middle" textLength="7.73" lengthAdjust="spacingAndGlyphs">6</text>
<line x1="651.38" y1="494.8" x2="651.38" y2="502.9" stroke="#000" stroke-width="1.8" />
<text x="651.38" y="518.7" font-family="Liberation Sans, sans-serif" font-weight="bold" font-size="14.4" text-anchor="middle" textLength="7.73" lengthAdjust="spacingAndGlyphs">8</text>
<line x1="700.5" y1="494.8" x2="700.5" y2="502.9" stroke="#000" stroke-width="1.8" />
<text x="700.5" y="518.7" font-family="Liberation Sans, sans-serif" font-weight="bold" font-size="14.4" text-anchor="middle" textLength="15.46" lengthAdjust="spacingAndGlyphs">10</text>
<line x1="467.18" y1="444.2" x2="467.18" y2="468.4" stroke="#8c8c8c" stroke-width="1.1" />
<line x1="462.23" y1="444.2" x2="472.13" y2="444.2" stroke="#8c8c8c" stroke-width="1.1" />
<line x1="462.23" y1="468.4" x2="472.13" y2="468.4" stroke="#8c8c8c" stroke-width="1.1" />
<line x1="479.46" y1="422" x2="479.46" y2="433" stroke="#8c8c8c" stroke-width="1.1" />
<line x1="474.51" y1="422" x2="484.41" y2="422" stroke="#8c8c8c" stroke-width="1.1" />
<line x1="474.51" y1="433" x2="484.41" y2="433" stroke="#8c8c8c" stroke-width="1.1" />
<line x1="504.02" y1="363.6" x2="504.02" y2="398.8" stroke="#8c8c8c" stroke-width="1.1" />
<line x1="499.07" y1="363.6" x2="508.97" y2="363.6" stroke="#8c8c8c" stroke-width="1.1" />
<line x1="499.07" y1="398.8" x2="508.97" y2="398.8" stroke="#8c8c8c" stroke-width="1.1" />
<line x1="528.58" y1="336.8" x2="528.58" y2="363.8" stroke="#8c8c8c" stroke-width="1.1" />
<line x1="523.63" y1="336.8" x2="533.53" y2="336.8" stroke="#8c8c8c" stroke-width="1.1" />
<line x1="523.63" y1="363.8" x2="533.53" y2="363.8" stroke="#8c8c8c" stroke-width="1.1" />
<line x1="577.7" y1="345.1" x2="577.7" y2="369.7" stroke="#8c8c8c" stroke-width="1.1" />
<line x1="572.75" y1="345.1" x2="582.65" y2="345.1" stroke="#8c8c8c" stroke-width="1.1" />
<line x1="572.75" y1="369.7" x2="582.65" y2="369.7" stroke="#8c8c8c" stroke-width="1.1" />
<line x1="651.38" y1="385.7" x2="651.38" y2="409.7" stroke="#8c8c8c" stroke-width="1.1" />
<line x1="646.43" y1="385.7" x2="656.33" y2="385.7" stroke="#8c8c8c" stroke-width="1.1" />
<line x1="646.43" y1="409.7" x2="656.33" y2="409.7" stroke="#8c8c8c" stroke-width="1.1" />
<line x1="700.5" y1="393.7" x2="700.5" y2="419.9" stroke="#8c8c8c" stroke-width="1.1" />
<line x1="695.55" y1="393.7" x2="705.45" y2="393.7" stroke="#8c8c8c" stroke-width="1.1" />
<line x1="695.55" y1="419.9" x2="705.45" y2="419.9" stroke="#8c8c8c" stroke-width="1.1" />
<path d="M467.18,456.3 L479.46,427.5 L504.02,381.2 L528.58,350.3 L577.7,357.4 L651.38,397.7 L700.5,406.8" fill="none" stroke="#7a7a7a" stroke-width="1.5" stroke-linejoin="round"/>
<circle cx="467.18" cy="456.3" r="4.65" fill="#fff" stroke="#000" stroke-width="1.1"/>
<circle cx="479.46" cy="427.5" r="4.65" fill="#fff" stroke="#000" stroke-width="1.1"/>
<circle cx="504.02" cy="381.2" r="4.65" fill="#fff" stroke="#000" stroke-width="1.1"/>
<circle cx="528.58" cy="350.3" r="4.65" fill="#fff" stroke="#000" stroke-width="1.1"/>
<circle cx="577.7" cy="357.4" r="4.65" fill="#fff" stroke="#000" stroke-width="1.1"/>
<circle cx="651.38" cy="397.7" r="4.65" fill="#fff" stroke="#000" stroke-width="1.1"/>
<circle cx="700.5" cy="406.8" r="4.65" fill="#fff" stroke="#000" stroke-width="1.1"/>
<line x1="467.18" y1="446.1" x2="467.18" y2="461.5" stroke="#000" stroke-width="1.1" />
<line x1="462.23" y1="446.1" x2="472.13" y2="446.1" stroke="#000" stroke-width="1.1" />
<line x1="462.23" y1="461.5" x2="472.13" y2="461.5" stroke="#000" stroke-width="1.1" />
<line x1="479.46" y1="404.6" x2="479.46" y2="432.2" stroke="#000" stroke-width="1.1" />
<line x1="474.51" y1="404.6" x2="484.41" y2="404.6" stroke="#000" stroke-width="1.1" />
<line x1="474.51" y1="432.2" x2="484.41" y2="432.2" stroke="#000" stroke-width="1.1" />
<line x1="504.02" y1="361.4" x2="504.02" y2="401" stroke="#000" stroke-width="1.1" />
<line x1="499.07" y1="361.4" x2="508.97" y2="361.4" stroke="#000" stroke-width="1.1" />
<line x1="499.07" y1="401" x2="508.97" y2="401" stroke="#000" stroke-width="1.1" />
<line x1="528.58" y1="319.3" x2="528.58" y2="345.5" stroke="#000" stroke-width="1.1" />
<line x1="523.63" y1="319.3" x2="533.53" y2="319.3" stroke="#000" stroke-width="1.1" />
<line x1="523.63" y1="345.5" x2="533.53" y2="345.5" stroke="#000" stroke-width="1.1" />
<line x1="577.7" y1="340.9" x2="577.7" y2="364.9" stroke="#000" stroke-width="1.1" />
<line x1="572.75" y1="340.9" x2="582.65" y2="340.9" stroke="#000" stroke-width="1.1" />
<line x1="572.75" y1="364.9" x2="582.65" y2="364.9" stroke="#000" stroke-width="1.1" />
<line x1="651.38" y1="395.7" x2="651.38" y2="412.9" stroke="#000" stroke-width="1.1" />
<line x1="646.43" y1="395.7" x2="656.33" y2="395.7" stroke="#000" stroke-width="1.1" />
<line x1="646.43" y1="412.9" x2="656.33" y2="412.9" stroke="#000" stroke-width="1.1" />
<line x1="700.5" y1="417" x2="700.5" y2="433.8" stroke="#000" stroke-width="1.1" />
<line x1="695.55" y1="417" x2="705.45" y2="417" stroke="#000" stroke-width="1.1" />
<line x1="695.55" y1="433.8" x2="705.45" y2="433.8" stroke="#000" stroke-width="1.1" />
<path d="M467.18,453.8 L479.46,418.4 L504.02,381.2 L528.58,332.4 L577.7,352.9 L651.38,404.3 L700.5,425.4" fill="none" stroke="#000" stroke-width="2" stroke-dasharray="6.5 2.9" stroke-linejoin="round"/>
<circle cx="467.18" cy="453.8" r="4.8" fill="#000"/>
<circle cx="479.46" cy="418.4" r="4.8" fill="#000"/>
<circle cx="504.02" cy="381.2" r="4.8" fill="#000"/>
<circle cx="528.58" cy="332.4" r="4.8" fill="#000"/>
<circle cx="577.7" cy="352.9" r="4.8" fill="#000"/>
<circle cx="651.38" cy="404.3" r="4.8" fill="#000"/>
<circle cx="700.5" cy="425.4" r="4.8" fill="#000"/>
<text x="386.6" y="297.6" font-family="Liberation Sans, sans-serif" font-weight="bold" font-size="16.3" text-anchor="start" style="stroke:none">D</text>
<line x1="82.6" y1="564.8" x2="82.6" y2="773.5" stroke="#000" stroke-width="1.8" stroke-linecap="butt"/>
<line x1="74.5" y1="765.4" x2="329.8" y2="765.4" stroke="#000" stroke-width="1.8" />
<text x="71.1" y="770.51" font-family="Liberation Sans, sans-serif" font-weight="bold" font-size="14.4" text-anchor="end" textLength="7.73" lengthAdjust="spacingAndGlyphs">0</text>
<line x1="74.5" y1="745.43" x2="82.6" y2="745.43" stroke="#000" stroke-width="1.8" />
<text x="71.1" y="750.54" font-family="Liberation Sans, sans-serif" font-weight="bold" font-size="14.4" text-anchor="end" textLength="15.46" lengthAdjust="spacingAndGlyphs">10</text>
<line x1="74.5" y1="725.46" x2="82.6" y2="725.46" stroke="#000" stroke-width="1.8" />
<text x="71.1" y="730.57" font-family="Liberation Sans, sans-serif" font-weight="bold" font-size="14.4" text-anchor="end" textLength="15.46" lengthAdjust="spacingAndGlyphs">20</text>
<line x1="74.5" y1="705.49" x2="82.6" y2="705.49" stroke="#000" stroke-width="1.8" />
<text x="71.1" y="710.6" font-family="Liberation Sans, sans-serif" font-weight="bold" font-size="14.4" text-anchor="end" textLength="15.46" lengthAdjust="spacingAndGlyphs">30</text>
<line x1="74.5" y1="685.52" x2="82.6" y2="685.52" stroke="#000" stroke-width="1.8" />
<text x="71.1" y="690.63" font-family="Liberation Sans, sans-serif" font-weight="bold" font-size="14.4" text-anchor="end" textLength="15.46" lengthAdjust="spacingAndGlyphs">40</text>
<line x1="74.5" y1="665.55" x2="82.6" y2="665.55" stroke="#000" stroke-width="1.8" />
<text x="71.1" y="670.66" font-family="Liberation Sans, sans-serif" font-weight="bold" font-size="14.4" text-anchor="end" textLength="15.46" lengthAdjust="spacingAndGlyphs">50</text>
<line x1="74.5" y1="645.58" x2="82.6" y2="645.58" stroke="#000" stroke-width="1.8" />
<text x="71.1" y="650.69" font-family="Liberation Sans, sans-serif" font-weight="bold" font-size="14.4" text-anchor="end" textLength="15.46" lengthAdjust="spacingAndGlyphs">60</text>
<line x1="74.5" y1="625.61" x2="82.6" y2="625.61" stroke="#000" stroke-width="1.8" />
<text x="71.1" y="630.72" font-family="Liberation Sans, sans-serif" font-weight="bold" font-size="14.4" text-anchor="end" textLength="15.46" lengthAdjust="spacingAndGlyphs">70</text>
<line x1="74.5" y1="605.64" x2="82.6" y2="605.64" stroke="#000" stroke-width="1.8" />
<text x="71.1" y="610.75" font-family="Liberation Sans, sans-serif" font-weight="bold" font-size="14.4" text-anchor="end" textLength="15.46" lengthAdjust="spacingAndGlyphs">80</text>
<line x1="74.5" y1="585.67" x2="82.6" y2="585.67" stroke="#000" stroke-width="1.8" />
<text x="71.1" y="590.78" font-family="Liberation Sans, sans-serif" font-weight="bold" font-size="14.4" text-anchor="end" textLength="15.46" lengthAdjust="spacingAndGlyphs">90</text>
<line x1="74.5" y1="565.7" x2="82.6" y2="565.7" stroke="#000" stroke-width="1.8" />
<text x="71.1" y="570.81" font-family="Liberation Sans, sans-serif" font-weight="bold" font-size="14.4" text-anchor="end" textLength="23.19" lengthAdjust="spacingAndGlyphs">100</text>
<text x="82.6" y="789.3" font-family="Liberation Sans, sans-serif" font-weight="bold" font-size="14.4" text-anchor="middle" textLength="7.73" lengthAdjust="spacingAndGlyphs">0</text>
<line x1="131.86" y1="765.4" x2="131.86" y2="773.5" stroke="#000" stroke-width="1.8" />
<text x="131.86" y="789.3" font-family="Liberation Sans, sans-serif" font-weight="bold" font-size="14.4" text-anchor="middle" textLength="7.73" lengthAdjust="spacingAndGlyphs">2</text>
<line x1="181.12" y1="765.4" x2="181.12" y2="773.5" stroke="#000" stroke-width="1.8" />
<text x="181.12" y="789.3" font-family="Liberation Sans, sans-serif" font-weight="bold" font-size="14.4" text-anchor="middle" textLength="7.73" lengthAdjust="spacingAndGlyphs">4</text>
<line x1="230.38" y1="765.4" x2="230.38" y2="773.5" stroke="#000" stroke-width="1.8" />
<text x="230.38" y="789.3" font-family="Liberation Sans, sans-serif" font-weight="bold" font-size="14.4" text-anchor="middle" textLength="7.73" lengthAdjust="spacingAndGlyphs">6</text>
<line x1="279.64" y1="765.4" x2="279.64" y2="773.5" stroke="#000" stroke-width="1.8" />
<text x="279.64" y="789.3" font-family="Liberation Sans, sans-serif" font-weight="bold" font-size="14.4" text-anchor="middle" textLength="7.73" lengthAdjust="spacingAndGlyphs">8</text>
<line x1="328.9" y1="765.4" x2="328.9" y2="773.5" stroke="#000" stroke-width="1.8" />
<text x="328.9" y="789.3" font-family="Liberation Sans, sans-serif" font-weight="bold" font-size="14.4" text-anchor="middle" textLength="15.46" lengthAdjust="spacingAndGlyphs">10</text>
<line x1="94.91" y1="638.2" x2="94.91" y2="670.4" stroke="#000" stroke-width="1.1" />
<line x1="89.96" y1="638.2" x2="99.86" y2="638.2" stroke="#000" stroke-width="1.1" />
<line x1="89.96" y1="670.4" x2="99.86" y2="670.4" stroke="#000" stroke-width="1.1" />
<line x1="107.23" y1="623.4" x2="107.23" y2="662" stroke="#000" stroke-width="1.1" />
<line x1="102.28" y1="623.4" x2="112.18" y2="623.4" stroke="#000" stroke-width="1.1" />
<line x1="102.28" y1="662" x2="112.18" y2="662" stroke="#000" stroke-width="1.1" />
<line x1="131.86" y1="612" x2="131.86" y2="652.4" stroke="#000" stroke-width="1.1" />
<line x1="126.91" y1="612" x2="136.81" y2="612" stroke="#000" stroke-width="1.1" />
<line x1="126.91" y1="652.4" x2="136.81" y2="652.4" stroke="#000" stroke-width="1.1" />
<line x1="156.49" y1="610.7" x2="156.49" y2="651.3" stroke="#000" stroke-width="1.1" />
<line x1="151.54" y1="610.7" x2="161.44" y2="610.7" stroke="#000" stroke-width="1.1" />
<line x1="151.54" y1="651.3" x2="161.44" y2="651.3" stroke="#000" stroke-width="1.1" />
<line x1="205.75" y1="610.4" x2="205.75" y2="649.2" stroke="#000" stroke-width="1.1" />
<line x1="200.8" y1="610.4" x2="210.7" y2="610.4" stroke="#000" stroke-width="1.1" />
<line x1="200.8" y1="649.2" x2="210.7" y2="649.2" stroke="#000" stroke-width="1.1" />
<line x1="279.64" y1="611.6" x2="279.64" y2="652" stroke="#000" stroke-width="1.1" />
<line x1="274.69" y1="611.6" x2="284.59" y2="611.6" stroke="#000" stroke-width="1.1" />
<line x1="274.69" y1="652" x2="284.59" y2="652" stroke="#000" stroke-width="1.1" />
<line x1="328.9" y1="612.4" x2="328.9" y2="650" stroke="#000" stroke-width="1.1" />
<line x1="323.95" y1="612.4" x2="333.85" y2="612.4" stroke="#000" stroke-width="1.1" />
<line x1="323.95" y1="650" x2="333.85" y2="650" stroke="#000" stroke-width="1.1" />
<path d="M94.91,654.3 L107.23,642.7 L131.86,632.2 L156.49,631 L205.75,629.8 L279.64,631.8 L328.9,631.2" fill="none" stroke="#000" stroke-width="2" stroke-dasharray="6.5 2.9" stroke-linejoin="round"/>
<circle cx="94.91" cy="654.3" r="4.65" fill="#fff" stroke="#000" stroke-width="1.1"/>
<circle cx="107.23" cy="642.7" r="4.65" fill="#fff" stroke="#000" stroke-width="1.1"/>
<circle cx="131.86" cy="632.2" r="4.65" fill="#fff" stroke="#000" stroke-width="1.1"/>
<circle cx="156.49" cy="631" r="4.65" fill="#fff" stroke="#000" stroke-width="1.1"/>
<circle cx="205.75" cy="629.8" r="4.65" fill="#fff" stroke="#000" stroke-width="1.1"/>
<circle cx="279.64" cy="631.8" r="4.65" fill="#fff" stroke="#000" stroke-width="1.1"/>
<circle cx="328.9" cy="631.2" r="4.65" fill="#fff" stroke="#000" stroke-width="1.1"/>
<line x1="94.91" y1="621.8" x2="94.91" y2="638.2" stroke="#000" stroke-width="1.1" />
<line x1="89.96" y1="621.8" x2="99.86" y2="621.8" stroke="#000" stroke-width="1.1" />
<line x1="89.96" y1="638.2" x2="99.86" y2="638.2" stroke="#000" stroke-width="1.1" />
<line x1="107.23" y1="608.5" x2="107.23" y2="626.3" stroke="#000" stroke-width="1.1" />
<line x1="102.28" y1="608.5" x2="112.18" y2="608.5" stroke="#000" stroke-width="1.1" />
<line x1="102.28" y1="626.3" x2="112.18" y2="626.3" stroke="#000" stroke-width="1.1" />
<line x1="131.86" y1="599.6" x2="131.86" y2="617.4" stroke="#000" stroke-width="1.1" />
<line x1="126.91" y1="599.6" x2="136.81" y2="599.6" stroke="#000" stroke-width="1.1" />
<line x1="126.91" y1="617.4" x2="136.81" y2="617.4" stroke="#000" stroke-width="1.1" />
<line x1="156.49" y1="599.7" x2="156.49" y2="618.3" stroke="#000" stroke-width="1.1" />
<line x1="151.54" y1="599.7" x2="161.44" y2="599.7" stroke="#000" stroke-width="1.1" />
<line x1="151.54" y1="618.3" x2="161.44" y2="618.3" stroke="#000" stroke-width="1.1" />
<line x1="205.75" y1="600.7" x2="205.75" y2="618.7" stroke="#000" stroke-width="1.1" />
<line x1="200.8" y1="600.7" x2="210.7" y2="600.7" stroke="#000" stroke-width="1.1" />
<line x1="200.8" y1="618.7" x2="210.7" y2="618.7" stroke="#000" stroke-width="1.1" />
<line x1="279.64" y1="602" x2="279.64" y2="620.8" stroke="#000" stroke-width="1.1" />
<line x1="274.69" y1="602" x2="284.59" y2="602" stroke="#000" stroke-width="1.1" />
<line x1="274.69" y1="620.8" x2="284.59" y2="620.8" stroke="#000" stroke-width="1.1" />
<line x1="328.9" y1="601.2" x2="328.9" y2="619.2" stroke="#000" stroke-width="1.1" />
<line x1="323.95" y1="601.2" x2="333.85" y2="601.2" stroke="#000" stroke-width="1.1" />
<line x1="323.95" y1="619.2" x2="333.85" y2="619.2" stroke="#000" stroke-width="1.1" />
<path d="M94.91,630 L107.23,617.4 L131.86,608.5 L156.49,609 L205.75,609.7 L279.64,611.4 L328.9,610.2" fill="none" stroke="#000" stroke-width="2" stroke-linejoin="round"/>
<circle cx="94.91" cy="630" r="4.8" fill="#000"/>
<circle cx="107.23" cy="617.4" r="4.8" fill="#000"/>
<circle cx="131.86" cy="608.5" r="4.8" fill="#000"/>
<circle cx="156.49" cy="609" r="4.8" fill="#000"/>
<circle cx="205.75" cy="609.7" r="4.8" fill="#000"/>
<circle cx="279.64" cy="611.4" r="4.8" fill="#000"/>
<circle cx="328.9" cy="610.2" r="4.8" fill="#000"/>
<text x="7" y="561.6" font-family="Liberation Sans, sans-serif" font-weight="bold" font-size="16.3" text-anchor="start" style="stroke:none">E</text>
<line x1="458.2" y1="564.5" x2="458.2" y2="773.1" stroke="#000" stroke-width="1.8" stroke-linecap="butt"/>
<line x1="450.1" y1="765" x2="704.6" y2="765" stroke="#000" stroke-width="1.8" />
<text x="446.7" y="770.11" font-family="Liberation Sans, sans-serif" font-weight="bold" font-size="14.4" text-anchor="end" textLength="7.73" lengthAdjust="spacingAndGlyphs">0</text>
<line x1="450.1" y1="731.73" x2="458.2" y2="731.73" stroke="#000" stroke-width="1.8" />
<text x="446.7" y="736.85" font-family="Liberation Sans, sans-serif" font-weight="bold" font-size="14.4" text-anchor="end" textLength="7.73" lengthAdjust="spacingAndGlyphs">5</text>
<line x1="450.1" y1="698.47" x2="458.2" y2="698.47" stroke="#000" stroke-width="1.8" />
<text x="446.7" y="703.58" font-family="Liberation Sans, sans-serif" font-weight="bold" font-size="14.4" text-anchor="end" textLength="15.46" lengthAdjust="spacingAndGlyphs">10</text>
<line x1="450.1" y1="665.2" x2="458.2" y2="665.2" stroke="#000" stroke-width="1.8" />
<text x="446.7" y="670.31" font-family="Liberation Sans, sans-serif" font-weight="bold" font-size="14.4" text-anchor="end" textLength="15.46" lengthAdjust="spacingAndGlyphs">15</text>
<line x1="450.1" y1="631.93" x2="458.2" y2="631.93" stroke="#000" stroke-width="1.8" />
<text x="446.7" y="637.05" font-family="Liberation Sans, sans-serif" font-weight="bold" font-size="14.4" text-anchor="end" textLength="15.46" lengthAdjust="spacingAndGlyphs">20</text>
<line x1="450.1" y1="598.67" x2="458.2" y2="598.67" stroke="#000" stroke-width="1.8" />
<text x="446.7" y="603.78" font-family="Liberation Sans, sans-serif" font-weight="bold" font-size="14.4" text-anchor="end" textLength="15.46" lengthAdjust="spacingAndGlyphs">25</text>
<line x1="450.1" y1="565.4" x2="458.2" y2="565.4" stroke="#000" stroke-width="1.8" />
<text x="446.7" y="570.51" font-family="Liberation Sans, sans-serif" font-weight="bold" font-size="14.4" text-anchor="end" textLength="15.46" lengthAdjust="spacingAndGlyphs">30</text>
<text x="458.2" y="788.9" font-family="Liberation Sans, sans-serif" font-weight="bold" font-size="14.4" text-anchor="middle" textLength="7.73" lengthAdjust="spacingAndGlyphs">0</text>
<line x1="507.3" y1="765" x2="507.3" y2="773.1" stroke="#000" stroke-width="1.8" />
<text x="507.3" y="788.9" font-family="Liberation Sans, sans-serif" font-weight="bold" font-size="14.4" text-anchor="middle" textLength="7.73" lengthAdjust="spacingAndGlyphs">2</text>
<line x1="556.4" y1="765" x2="556.4" y2="773.1" stroke="#000" stroke-width="1.8" />
<text x="556.4" y="788.9" font-family="Liberation Sans, sans-serif" font-weight="bold" font-size="14.4" text-anchor="middle" textLength="7.73" lengthAdjust="spacingAndGlyphs">4</text>
<line x1="605.5" y1="765" x2="605.5" y2="773.1" stroke="#000" stroke-width="1.8" />
<text x="605.5" y="788.9" font-family="Liberation Sans, sans-serif" font-weight="bold" font-size="14.4" text-anchor="middle" textLength="7.73" lengthAdjust="spacingAndGlyphs">6</text>
<line x1="654.6" y1="765" x2="654.6" y2="773.1" stroke="#000" stroke-width="1.8" />
<text x="654.6" y="788.9" font-family="Liberation Sans, sans-serif" font-weight="bold" font-size="14.4" text-anchor="middle" textLength="7.73" lengthAdjust="spacingAndGlyphs">8</text>
<line x1="703.7" y1="765" x2="703.7" y2="773.1" stroke="#000" stroke-width="1.8" />
<text x="703.7" y="788.9" font-family="Liberation Sans, sans-serif" font-weight="bold" font-size="14.4" text-anchor="middle" textLength="15.46" lengthAdjust="spacingAndGlyphs">10</text>
<line x1="507.3" y1="673.5" x2="507.3" y2="690.7" stroke="#8c8c8c" stroke-width="1.1" />
<line x1="502.35" y1="673.5" x2="512.25" y2="673.5" stroke="#8c8c8c" stroke-width="1.1" />
<line x1="502.35" y1="690.7" x2="512.25" y2="690.7" stroke="#8c8c8c" stroke-width="1.1" />
<line x1="531.85" y1="657.4" x2="531.85" y2="678.6" stroke="#8c8c8c" stroke-width="1.1" />
<line x1="526.9" y1="657.4" x2="536.8" y2="657.4" stroke="#8c8c8c" stroke-width="1.1" />
<line x1="526.9" y1="678.6" x2="536.8" y2="678.6" stroke="#8c8c8c" stroke-width="1.1" />
<line x1="580.95" y1="640.5" x2="580.95" y2="670.5" stroke="#8c8c8c" stroke-width="1.1" />
<line x1="576" y1="640.5" x2="585.9" y2="640.5" stroke="#8c8c8c" stroke-width="1.1" />
<line x1="576" y1="670.5" x2="585.9" y2="670.5" stroke="#8c8c8c" stroke-width="1.1" />
<line x1="654.6" y1="610.7" x2="654.6" y2="653.3" stroke="#8c8c8c" stroke-width="1.1" />
<line x1="649.65" y1="610.7" x2="659.55" y2="610.7" stroke="#8c8c8c" stroke-width="1.1" />
<line x1="649.65" y1="653.3" x2="659.55" y2="653.3" stroke="#8c8c8c" stroke-width="1.1" />
<line x1="703.7" y1="608.4" x2="703.7" y2="652.6" stroke="#8c8c8c" stroke-width="1.1" />
<line x1="698.75" y1="608.4" x2="708.65" y2="608.4" stroke="#8c8c8c" stroke-width="1.1" />
<line x1="698.75" y1="652.6" x2="708.65" y2="652.6" stroke="#8c8c8c" stroke-width="1.1" />
<path d="M470.47,702.5 L482.75,694.1 L507.3,682.1 L531.85,668 L580.95,655.5 L654.6,632 L703.7,630.5" fill="none" stroke="#7a7a7a" stroke-width="1.5" stroke-linejoin="round"/>
<circle cx="470.47" cy="702.5" r="4.65" fill="#fff" stroke="#000" stroke-width="1.1"/>
<circle cx="482.75" cy="694.1" r="4.65" fill="#fff" stroke="#000" stroke-width="1.1"/>
<circle cx="507.3" cy="682.1" r="4.65" fill="#fff" stroke="#000" stroke-width="1.1"/>
<circle cx="531.85" cy="668" r="4.65" fill="#fff" stroke="#000" stroke-width="1.1"/>
<circle cx="580.95" cy="655.5" r="4.65" fill="#fff" stroke="#000" stroke-width="1.1"/>
<circle cx="654.6" cy="632" r="4.65" fill="#fff" stroke="#000" stroke-width="1.1"/>
<circle cx="703.7" cy="630.5" r="4.65" fill="#fff" stroke="#000" stroke-width="1.1"/>
<line x1="470.47" y1="695.5" x2="470.47" y2="709.5" stroke="#000" stroke-width="1.1" />
<line x1="465.52" y1="695.5" x2="475.42" y2="695.5" stroke="#000" stroke-width="1.1" />
<line x1="465.52" y1="709.5" x2="475.42" y2="709.5" stroke="#000" stroke-width="1.1" />
<line x1="482.75" y1="707.5" x2="482.75" y2="718.1" stroke="#000" stroke-width="1.1" />
<line x1="477.8" y1="707.5" x2="487.7" y2="707.5" stroke="#000" stroke-width="1.1" />
<line x1="477.8" y1="718.1" x2="487.7" y2="718.1" stroke="#000" stroke-width="1.1" />
<line x1="507.3" y1="710.8" x2="507.3" y2="722.8" stroke="#000" stroke-width="1.1" />
<line x1="502.35" y1="710.8" x2="512.25" y2="710.8" stroke="#000" stroke-width="1.1" />
<line x1="502.35" y1="722.8" x2="512.25" y2="722.8" stroke="#000" stroke-width="1.1" />
<line x1="531.85" y1="694.2" x2="531.85" y2="711.2" stroke="#000" stroke-width="1.1" />
<line x1="526.9" y1="694.2" x2="536.8" y2="694.2" stroke="#000" stroke-width="1.1" />
<line x1="526.9" y1="711.2" x2="536.8" y2="711.2" stroke="#000" stroke-width="1.1" />
<line x1="580.95" y1="676.2" x2="580.95" y2="695.8" stroke="#000" stroke-width="1.1" />
<line x1="576" y1="676.2" x2="585.9" y2="676.2" stroke="#000" stroke-width="1.1" />
<line x1="576" y1="695.8" x2="585.9" y2="695.8" stroke="#000" stroke-width="1.1" />
<line x1="654.6" y1="664.8" x2="654.6" y2="680.8" stroke="#000" stroke-width="1.1" />
<line x1="649.65" y1="664.8" x2="659.55" y2="664.8" stroke="#000" stroke-width="1.1" />
<line x1="649.65" y1="680.8" x2="659.55" y2="680.8" stroke="#000" stroke-width="1.1" />
<line x1="703.7" y1="662.3" x2="703.7" y2="675.5" stroke="#000" stroke-width="1.1" />
<line x1="698.75" y1="662.3" x2="708.65" y2="662.3" stroke="#000" stroke-width="1.1" />
<line x1="698.75" y1="675.5" x2="708.65" y2="675.5" stroke="#000" stroke-width="1.1" />
<path d="M470.47,702.5 L482.75,712.8 L507.3,716.8 L531.85,702.7 L580.95,686 L654.6,672.8 L703.7,668.9" fill="none" stroke="#000" stroke-width="2" stroke-dasharray="6.5 2.9" stroke-linejoin="round"/>
<circle cx="470.47" cy="702.5" r="4.8" fill="#000"/>
<circle cx="482.75" cy="712.8" r="4.8" fill="#000"/>
<circle cx="507.3" cy="716.8" r="4.8" fill="#000"/>
<circle cx="531.85" cy="702.7" r="4.8" fill="#000"/>
<circle cx="580.95" cy="686" r="4.8" fill="#000"/>
<circle cx="654.6" cy="672.8" r="4.8" fill="#000"/>
<circle cx="703.7" cy="668.9" r="4.8" fill="#000"/>
<text x="386.6" y="561.6" font-family="Liberation Sans, sans-serif" font-weight="bold" font-size="16.3" text-anchor="start" style="stroke:none">F</text>
<text transform="translate(45,241.8) rotate(-90) scale(0.9200,1)" font-family="Liberation Sans, sans-serif" font-weight="bold" font-size="19.2">Normalized Amplitude (%)</text>
<text transform="translate(417.4,204.41) rotate(-90) scale(0.9266,1)" font-family="Liberation Sans, sans-serif" font-weight="bold" font-size="19.2">Ejection Fraction</text>
<text transform="translate(44.6,470.3) rotate(-90) scale(0.9269,1)" font-family="Liberation Sans, sans-serif" font-weight="bold" font-size="19.2">Frequency (min<tspan font-size="14.4" dy="-5.6">-1</tspan><tspan dy="5.6" dx="-0.9">)</tspan></text>
<text transform="translate(419.8,500.01) rotate(-90) scale(0.9317,1)" font-family="Liberation Sans, sans-serif" font-weight="bold" font-size="19.2">Fract. Pump Flow (min<tspan font-size="14.4" dy="-6.8">-1</tspan><tspan dy="6.8" dx="-0.9">)</tspan></text>
<text transform="translate(39.2,705.71) rotate(-90) scale(0.9248,1)" font-family="Liberation Sans, sans-serif" font-weight="bold" font-size="19.2">EDD (um)</text>
<text transform="translate(422.8,701.4) rotate(-90) scale(0.9202,1)" font-family="Liberation Sans, sans-serif" font-weight="bold" font-size="19.2">Tone (%)</text>
<text transform="translate(128.4,814.9) scale(0.9224,1)" font-family="Liberation Sans, sans-serif" font-weight="bold" font-size="19.2">Pressure (cmH2O)</text>
<text transform="translate(504.49,814) scale(0.9274,1)" font-family="Liberation Sans, sans-serif" font-weight="bold" font-size="19.2">Pressure (cmH<tspan font-size="11.6" dy="4.6">2</tspan><tspan dy="-4.6">O)</tspan></text>
<polygon points="53.63,205.42 57.28,205.42 57.28,200.78 53.63,200.78" fill="#fff"/>
<polygon points="59.20,205.42 61.99,205.42 61.99,200.78 59.20,200.78" fill="#fff"/>
<polygon points="317.46,257.29 321.11,257.29 321.11,252.65 317.46,252.65" fill="#fff"/>
<polygon points="323.03,257.29 325.82,257.29 325.82,252.65 323.03,252.65" fill="#fff"/>
<polygon points="247.94,42.11 250.46,42.11 251.34,37.57 248.16,37.57" fill="#fff"/>
<polygon points="251.87,42.11 255.04,42.11 255.12,37.57 252.75,37.57" fill="#fff"/>
<polygon points="247.94,89.21 250.46,89.21 251.34,84.67 248.16,84.67" fill="#fff"/>
<polygon points="251.87,89.21 255.04,89.21 255.12,84.67 252.75,84.67" fill="#fff"/>
<polygon points="436.86,219.36 440.50,219.36 440.50,214.72 436.86,214.72" fill="#fff"/>
<polygon points="442.43,219.36 445.21,219.36 445.21,214.72 442.43,214.72" fill="#fff"/>
<polygon points="425.27,39.90 428.92,39.90 428.92,35.26 425.27,35.26" fill="#fff"/>
<polygon points="430.84,39.90 433.63,39.90 433.63,35.26 430.84,35.26" fill="#fff"/>
<polygon points="693.86,258.09 697.51,258.09 697.51,253.45 693.86,253.45" fill="#fff"/>
<polygon points="699.43,258.09 702.22,258.09 702.22,253.45 699.43,253.45" fill="#fff"/>
<polygon points="53.33,402.15 56.98,402.15 56.98,397.51 53.33,397.51" fill="#fff"/>
<polygon points="58.90,402.15 61.69,402.15 61.69,397.51 58.90,397.51" fill="#fff"/>
<polygon points="53.33,382.24 56.98,382.24 56.98,377.60 53.33,377.60" fill="#fff"/>
<polygon points="58.90,382.24 61.69,382.24 61.69,377.60 58.90,377.60" fill="#fff"/>
<polygon points="53.33,362.33 56.98,362.33 56.98,357.69 53.33,357.69" fill="#fff"/>
<polygon points="58.90,362.33 61.69,362.33 61.69,357.69 58.90,357.69" fill="#fff"/>
<polygon points="53.33,342.42 56.98,342.42 56.98,337.78 53.33,337.78" fill="#fff"/>
<polygon points="58.90,342.42 61.69,342.42 61.69,337.78 58.90,337.78" fill="#fff"/>
<polygon points="53.33,322.51 56.98,322.51 56.98,317.87 53.33,317.87" fill="#fff"/>
<polygon points="58.90,322.51 61.69,322.51 61.69,317.87 58.90,317.87" fill="#fff"/>
<polygon points="318.06,520.49 321.71,520.49 321.71,515.85 318.06,515.85" fill="#fff"/>
<polygon points="323.63,520.49 326.42,520.49 326.42,515.85 323.63,515.85" fill="#fff"/>
<polygon points="427.53,335.77 431.18,335.77 431.18,331.13 427.53,331.13" fill="#fff"/>
<polygon points="433.10,335.77 435.89,335.77 435.89,331.13 433.10,331.13" fill="#fff"/>
<polygon points="427.53,302.60 431.18,302.60 431.18,297.96 427.53,297.96" fill="#fff"/>
<polygon points="433.10,302.60 435.89,302.60 435.89,297.96 433.10,297.96" fill="#fff"/>
<polygon points="692.36,520.39 696.01,520.39 696.01,515.75 692.36,515.75" fill="#fff"/>
<polygon points="697.93,520.39 700.72,520.39 700.72,515.75 697.93,515.75" fill="#fff"/>
<polygon points="55.23,752.23 58.88,752.23 58.88,747.59 55.23,747.59" fill="#fff"/>
<polygon points="60.80,752.23 63.59,752.23 63.59,747.59 60.80,747.59" fill="#fff"/>
<polygon points="47.50,572.50 51.15,572.50 51.15,567.86 47.50,567.86" fill="#fff"/>
<polygon points="53.07,572.50 55.86,572.50 55.86,567.86 53.07,567.86" fill="#fff"/>
<polygon points="320.76,790.99 324.41,790.99 324.41,786.35 320.76,786.35" fill="#fff"/>
<polygon points="326.33,790.99 329.12,790.99 329.12,786.35 326.33,786.35" fill="#fff"/>
<polygon points="430.83,705.27 434.48,705.27 434.48,700.63 430.83,700.63" fill="#fff"/>
<polygon points="436.40,705.27 439.19,705.27 439.19,700.63 436.40,700.63" fill="#fff"/>
<polygon points="430.83,672.00 434.48,672.00 434.48,667.36 430.83,667.36" fill="#fff"/>
<polygon points="436.40,672.00 439.19,672.00 439.19,667.36 436.40,667.36" fill="#fff"/>
<polygon points="695.56,790.59 699.21,790.59 699.21,785.95 695.56,785.95" fill="#fff"/>
<polygon points="701.13,790.59 703.92,790.59 703.92,785.95 701.13,785.95" fill="#fff"/>
<polygon points="147.23,-3.91 151.01,-3.91 151.01,-8.55 147.23,-8.55" fill="#fff" transform="translate(44.6,470.3) rotate(-90) scale(0.9269,1)"/>
<polygon points="153.00,-3.91 155.89,-3.91 155.89,-8.55 153.00,-8.55" fill="#fff" transform="translate(44.6,470.3) rotate(-90) scale(0.9269,1)"/>
<polygon points="210.11,-5.11 213.89,-5.11 213.89,-9.75 210.11,-9.75" fill="#fff" transform="translate(419.8,500.01) rotate(-90) scale(0.9317,1)"/>
<polygon points="215.88,-5.11 218.77,-5.11 218.77,-9.75 215.88,-9.75" fill="#fff" transform="translate(419.8,500.01) rotate(-90) scale(0.9317,1)"/>
</svg>
</body></html>
